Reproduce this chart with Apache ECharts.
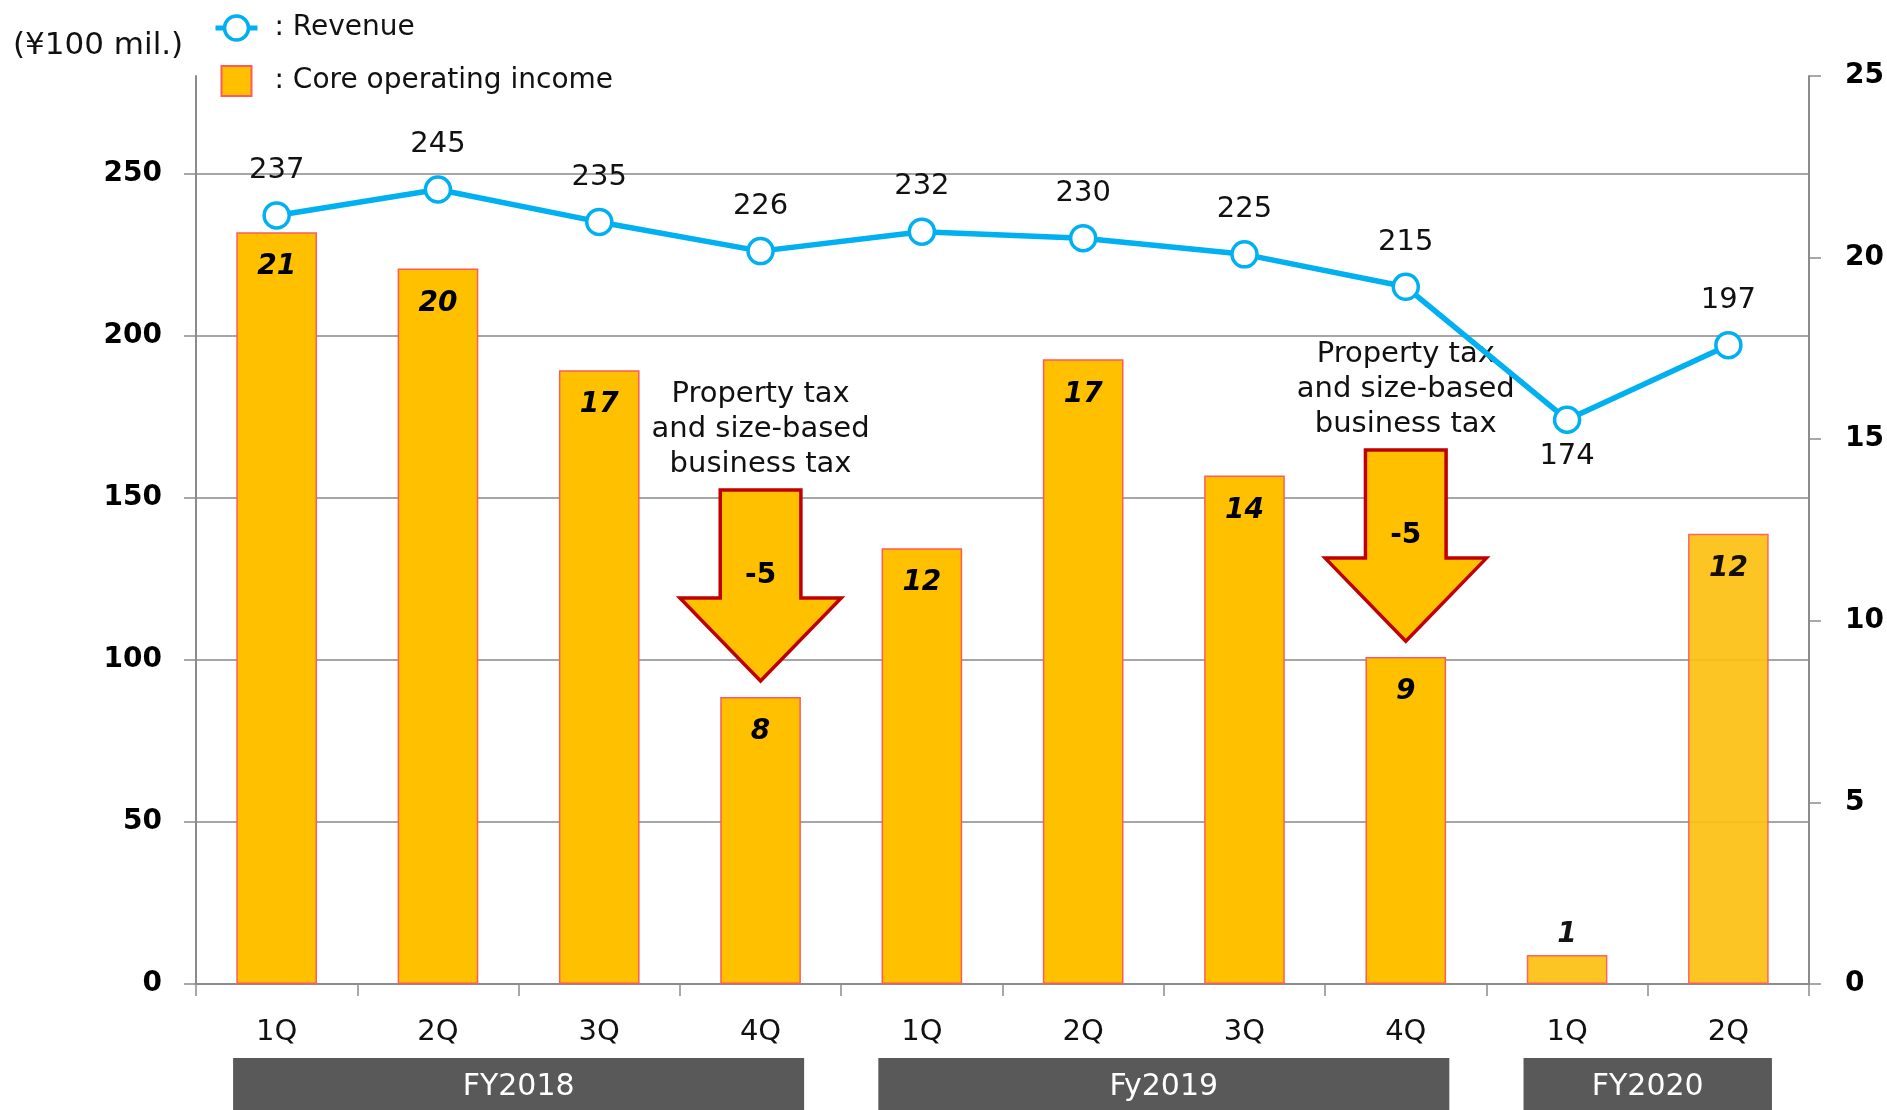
<!DOCTYPE html>
<html>
<head>
<meta charset="utf-8">
<title>Revenue and core operating income</title>
<script src="https://cdn.jsdelivr.net/npm/echarts@6/dist/echarts.min.js"></script>
<style>
  html, body { margin: 0; padding: 0; background: #fff; }
  #chart { width: 1887px; height: 1110px; }
</style>
</head>
<body>
<div id="chart"></div>
<script>
// quarters along the x axis
const quarters = ['1Q', '2Q', '3Q', '4Q', '1Q', '2Q', '3Q', '4Q', '1Q', '2Q']
// revenue (left axis, ¥100 mil.)
const revenueValues = [237, 245, 235, 226, 232, 230, 225, 215, 174, 197]
// core operating income (right axis, ¥100 mil.)
const incomeValues = [20.7, 19.7, 16.9, 7.9, 12.0, 17.2, 14.0, 9.0, 0.8, 12.4]
// fiscal year bands: first and last quarter index
const fyLabels = ['FY2018', 'Fy2019', 'FY2020']
const fyRanges = [[0, 3], [4, 7], [8, 9]]
// tax notes: which quarter and the drop they cause
const arrowCats = [3, 7]
const arrowDrops = [-5, -5]
const arrowNote = 'Property tax\nand size-based\nbusiness tax'

const leftTicks = [0, 50, 100, 150, 200, 250]

const FONT = "'DejaVu Sans', Verdana, sans-serif"
const AXIS_GRAY = '#8c8c8c'

const chart = echarts.init(document.getElementById('chart'), null, { renderer: 'canvas' })

const lowIdx = revenueValues.indexOf(Math.min(...revenueValues))

const option = {
  animation: false,
  title: {
    text: '(¥100 mil.)',
    left: 8,
    top: 25,
    textStyle: { fontFamily: FONT, fontSize: 31, fontWeight: 'normal', color: '#111' }
  },
  legend: {
    orient: 'vertical',
    left: 208,
    top: 9,
    itemWidth: 42,
    itemHeight: 30,
    itemGap: 23,
    symbolKeepAspect: true,
    formatter: ': {name}',
    textStyle: { fontFamily: FONT, fontSize: 28, color: '#111', padding: [0, 0, 0, 12] },
    data: [
      { name: 'Revenue', lineStyle: { width: 5 }, itemStyle: { borderWidth: 3.5 } },
      { name: 'Core operating income', icon: 'path://M0,0h10v10h-10z' }
    ]
  },
  grid: { left: 196, right: 76, top: 76, bottom: 126 },
  xAxis: {
    type: 'category',
    data: quarters,
    axisLine: { lineStyle: { color: AXIS_GRAY, width: 2 } },
    axisTick: { show: true, length: 12, lineStyle: { color: AXIS_GRAY, width: 1.5 } },
    axisLabel: { margin: 34, fontFamily: FONT, fontSize: 29, color: '#111' }
  },
  yAxis: [
    {
      type: 'value',
      min: 0,
      max: 280,
      interval: 50,
      axisLine: { show: true, lineStyle: { color: AXIS_GRAY, width: 2 } },
      axisTick: { show: true, length: 12, customValues: leftTicks, lineStyle: { color: AXIS_GRAY, width: 1.5 } },
      axisLabel: {
        margin: 34, customValues: leftTicks,
        fontFamily: FONT, fontSize: 28, fontWeight: 'bold', color: '#000'
      },
      splitLine: { show: true, lineStyle: { color: '#a6a6a6', width: 2 } }
    },
    {
      type: 'value',
      min: 0,
      max: 25,
      interval: 5,
      axisLine: { show: true, lineStyle: { color: AXIS_GRAY, width: 2 } },
      axisTick: { show: true, length: 12, lineStyle: { color: AXIS_GRAY, width: 1.5 } },
      axisLabel: { margin: 36, fontFamily: FONT, fontSize: 28, fontWeight: 'bold', color: '#000' },
      splitLine: { show: false }
    }
  ],
  series: [
    {
      name: 'Core operating income',
      type: 'bar',
      yAxisIndex: 1,
      barWidth: '50%',
      z: 2,
      itemStyle: { color: '#FFC000', borderColor: '#FF5A5A', borderWidth: 1.5 },
      label: {
        show: true,
        position: 'insideTop',
        distance: 21,
        formatter: (p) => String(Math.round(p.value)),
        fontFamily: FONT, fontSize: 28, fontWeight: 'bold', fontStyle: 'italic', color: '#000'
      },
      data: incomeValues.map((v, i) => {
        const item = { value: v }
        if (v < 2) item.label = { position: 'top', distance: 6 }
        if (i >= 8) item.itemStyle = { color: '#FCC010', opacity: 0.92 }
        return item
      })
    },
    {
      name: 'Revenue',
      type: 'line',
      yAxisIndex: 0,
      z: 5,
      symbol: 'circle',
      symbolSize: 25,
      lineStyle: { color: '#00B0F0', width: 5.5 },
      itemStyle: { color: '#fff', borderColor: '#00B0F0', borderWidth: 3.5 },
      label: {
        show: true,
        position: 'top',
        distance: 16,
        fontFamily: FONT, fontSize: 29, color: '#111'
      },
      data: revenueValues.map((v, i) => i === lowIdx ? { value: v, label: { position: 'bottom', distance: 8 } } : v)
    },
    {
      name: 'taxArrows',
      type: 'custom',
      yAxisIndex: 1,
      z: 4,
      clip: false,
      silent: true,
      data: arrowCats.map((c, i) => [c, incomeValues[c], arrowDrops[i]]),
      renderItem: (params, api) => {
        const top = api.coord([api.value(0), api.value(1)])
        const catW = api.size([1, 0])[0]
        const x = top[0]
        const yTip = top[1] - 16
        const yHead = yTip - 83
        const yTop = yHead - 108
        const hw = catW / 2
        const sw = catW / 4
        return {
          type: 'group',
          children: [
            {
              type: 'polygon',
              shape: { points: [[x - sw, yTop], [x + sw, yTop], [x + sw, yHead], [x + hw, yHead], [x, yTip], [x - hw, yHead], [x - sw, yHead]] },
              style: { fill: '#FFC000', stroke: '#C00000', lineWidth: 3.5, lineJoin: 'miter' }
            },
            {
              type: 'text',
              x: x,
              y: yTop + 86,
              style: { text: String(api.value(2)), fontFamily: FONT, fontSize: 28, fontWeight: 'bold', fill: '#000', align: 'center', verticalAlign: 'middle' }
            },
            {
              type: 'text',
              x: x,
              y: yTop - 8,
              style: { text: arrowNote, fontFamily: FONT, fontSize: 29, lineHeight: 35, fill: '#111', align: 'center', verticalAlign: 'bottom' }
            }
          ]
        }
      }
    },
    {
      name: 'fyBands',
      type: 'custom',
      yAxisIndex: 0,
      z: 4,
      clip: false,
      silent: true,
      data: fyRanges,
      renderItem: (params, api) => {
        const a = api.coord([api.value(0), 0])
        const b = api.coord([api.value(1), 0])
        const catW = api.size([1, 0])[0]
        const inset = catW * 0.23
        const x0 = a[0] - catW / 2 + inset
        const x1 = b[0] + catW / 2 - inset
        const y0 = a[1] + 74
        return {
          type: 'group',
          children: [
            { type: 'rect', shape: { x: x0, y: y0, width: x1 - x0, height: 60 }, style: { fill: '#595959' } },
            {
              type: 'text',
              x: (x0 + x1) / 2,
              y: y0 + 29,
              style: { text: fyLabels[params.dataIndex], fontFamily: FONT, fontSize: 30, fill: '#fff', align: 'center', verticalAlign: 'middle' }
            }
          ]
        }
      }
    }
  ]
}

chart.setOption(option)
window.addEventListener('resize', () => chart.resize())
</script>
</body>
</html>
